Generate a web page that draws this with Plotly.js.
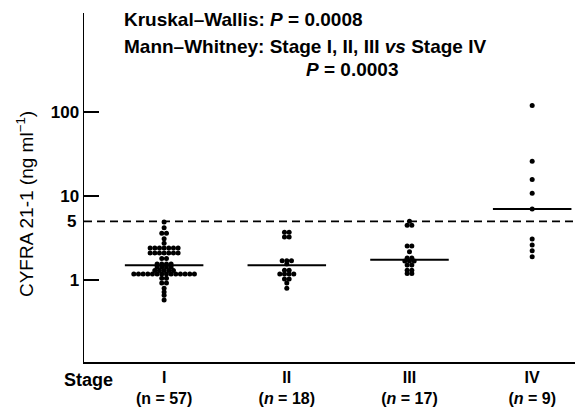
<!DOCTYPE html>
<html>
<head>
<meta charset="utf-8">
<script src="https://cdn.plot.ly/plotly-3.0.1.min.js"></script>
<style>html,body{margin:0;padding:0;background:#fff;}#chart{width:578px;height:408px;}</style>
</head>
<body>
<div id="chart"></div>
<script>
// ---- Data ----
const stages = ['I', 'II', 'III', 'IV'];
const stageLabels = ['I<br>(n = 57)', 'II<br>(<i>n</i> = 18)', 'III<br>(<i>n</i> = 17)', 'IV<br>(<i>n</i> = 9)'];
const stageI = [4.9, 4.2, 3.6, 3.6, 3.1, 2.75,
  2.4, 2.4, 2.4, 2.4, 2.4, 2.4, 2.4,
  2.1, 2.1, 2.1, 2.1, 2.1, 2.1, 2.1,
  1.8, 1.8, 1.55, 1.55, 1.55, 1.55, 1.43, 1.43, 1.43, 1.43,
  1.3, 1.3, 1.3, 1.3, 1.3,
  1.18, 1.18, 1.18, 1.18, 1.18, 1.18, 1.18, 1.18, 1.18, 1.18, 1.18, 1.18, 1.18, 1.18,
  1.05, 1.05, 0.92, 0.92, 0.8, 0.72, 0.66, 0.58];
const stageII = [3.72, 3.72, 3.25, 3.25, 1.7, 1.7, 1.7, 1.55, 1.31, 1.31,
  1.18, 1.18, 1.18, 1.18, 1.03, 1.03, 0.92, 0.8];
const stageIII = [5.0, 4.5, 4.5, 2.54, 2.54, 2.17, 1.83, 1.83, 1.68, 1.68, 1.68,
  1.51, 1.51, 1.31, 1.31, 1.2, 1.2];
const stageIV = [120, 26, 15.8, 10.8, 7.0, 3.08, 2.61, 2.23, 1.89];
const medians = [1.5, 1.5, 1.75, 7.0];
const cutoff = 5;
const yTickVals = [1, 10, 100];
const yTickText = ['1', '10', '100'];
const yTitle = 'CYFRA 21-1 (ng ml<sup>\u22121</sup>)';

const groups = [stageI, stageII, stageIII, stageIV];
const FONT = 'Liberation Sans, Arial, Helvetica, sans-serif';
const step = 0.038;     // horizontal spacing of tied points (x-axis units)
const halfLine = 0.32;  // half width of median bars (x-axis units)

const traces = [];
groups.forEach((vals, gi) => {
  const counts = {};
  vals.forEach(v => { counts[v] = (counts[v] || 0) + 1; });
  const seen = {};
  const xs = [], ys = [];
  vals.forEach(v => {
    const k = counts[v];
    const i = seen[v] || 0;
    seen[v] = i + 1;
    xs.push(gi + 1 + (i - (k - 1) / 2) * step);
    ys.push(v);
  });
  traces.push({
    type: 'scatter', mode: 'markers', x: xs, y: ys, name: 'Stage ' + stages[gi],
    marker: {color: '#000', size: 5}, hoverinfo: 'y', showlegend: false
  });
  traces.push({
    type: 'scatter', mode: 'lines', name: 'Median ' + stages[gi],
    x: [gi + 1 - halfLine, gi + 1 + halfLine], y: [medians[gi], medians[gi]],
    line: {color: '#000', width: 2}, hoverinfo: 'skip', showlegend: false
  });
});

const layout = {
  width: 578, height: 408,
  margin: {l: 84, r: 3, t: 13, b: 46},
  paper_bgcolor: '#fff', plot_bgcolor: '#fff',
  font: {family: FONT, color: '#000', size: 16},
  showlegend: false,
  xaxis: {
    range: [0.347, 4.349], showgrid: false, zeroline: false,
    showline: true, linecolor: '#000', linewidth: 1.5,
    tickvals: [1, 2, 3, 4], ticktext: stageLabels, ticks: '',
    tickfont: {family: FONT, size: 16, weight: 'bold', color: '#000'}
  },
  yaxis: {
    type: 'log', range: [-0.976, 3.18], showgrid: false, zeroline: false,
    showline: true, linecolor: '#000', linewidth: 1.5,
    tickvals: yTickVals, ticktext: yTickText,
    ticks: 'inside', ticklen: 15, tickwidth: 1.5, tickcolor: '#000',
    tickfont: {family: FONT, size: 17, weight: 'bold', color: '#000'}
  },
  shapes: [{
    type: 'line', xref: 'paper', x0: 0, x1: 1, yref: 'y', y0: cutoff, y1: cutoff,
    line: {color: '#000', width: 1.6, dash: '8px,5px'}
  }],
  annotations: [
    {xref: 'paper', yref: 'paper', x: 0.0774, y: 0.98, xanchor: 'left', yanchor: 'middle', showarrow: false,
     text: 'Kruskal\u2013Wallis: <i>P</i> = 0.0008', font: {family: FONT, size: 19, weight: 'bold'}},
    {xref: 'paper', yref: 'paper', x: 0.0774, y: 0.905, xanchor: 'left', yanchor: 'middle', showarrow: false,
     text: 'Mann\u2013Whitney: Stage I, II, III <i>vs</i> Stage IV', font: {family: FONT, size: 19, weight: 'bold'}},
    {xref: 'paper', yref: 'paper', x: 0.546, y: 0.8395, xanchor: 'center', yanchor: 'middle', showarrow: false,
     text: '<i>P</i> = 0.0003', font: {family: FONT, size: 19, weight: 'bold'}},
    {xref: 'paper', yref: 'paper', x: -0.0448, y: -0.0516, xanchor: 'left', yanchor: 'middle', showarrow: false,
     text: 'Stage', font: {family: FONT, size: 18, weight: 'bold'}},
    {xref: 'paper', yref: 'y', x: 0, y: Math.log10(cutoff), xanchor: 'right', yanchor: 'middle', xshift: -6, showarrow: false,
     text: '5', font: {family: FONT, size: 17, weight: 'bold'}},
    {xref: 'paper', yref: 'paper', x: -0.12, y: 0.4527, xanchor: 'center', yanchor: 'middle', showarrow: false,
     textangle: -90, text: yTitle, font: {family: FONT, size: 19, color: '#000'}}
  ]
};

Plotly.newPlot('chart', traces, layout, {displayModeBar: false, staticPlot: true});
</script>
</body>
</html>
